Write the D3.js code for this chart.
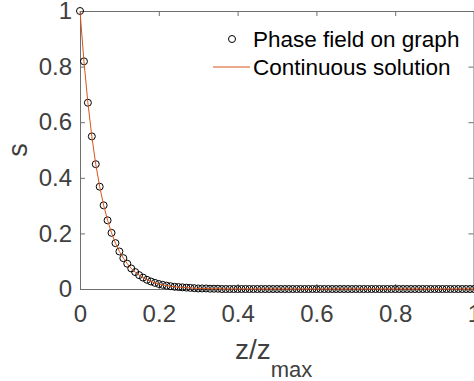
<!DOCTYPE html>
<html>
<head>
<meta charset="utf-8">
<script src="https://cdn.jsdelivr.net/npm/d3@7"></script>
<style>
  body { margin: 0; background: #fff; }
  text { font-family: Arial, "Liberation Sans", sans-serif; }
</style>
</head>
<body>
<div id="grafiek"></div>
<script>
// positions along the graph (z/zmax), step 0.01
var zValues = d3.range(0, 101).map(function(k) { return k / 100; });

// phase field values
var sValues = [
    1, 0.819, 0.670, 0.549, 0.449, 0.368, 0.301, 0.247, 0.202, 0.165,
    0.135, 0.111, 0.091, 0.074, 0.061, 0.050, 0.041, 0.033, 0.027, 0.022,
    0.018, 0.015, 0.012, 0.010, 0.008, 0.007, 0.006, 0.005, 0.004, 0.003,
    0.002, 0.002, 0.002, 0.001, 0.001, 0.001, 0, 0, 0, 0,
    0, 0, 0, 0, 0, 0, 0, 0, 0, 0,
    0, 0, 0, 0, 0, 0, 0, 0, 0, 0,
    0, 0, 0, 0, 0, 0, 0, 0, 0, 0,
    0, 0, 0, 0, 0, 0, 0, 0, 0, 0,
    0, 0, 0, 0, 0, 0, 0, 0, 0, 0,
    0, 0, 0, 0, 0, 0, 0, 0, 0, 0,
    0
];

// continuous solution, same sample points
var continuousValues = sValues.slice();

var xTicks = [0, 0.2, 0.4, 0.6, 0.8, 1];
var xTickLabels = ["0", "0.2", "0.4", "0.6", "0.8", "1"];
var yTicks = [0, 0.2, 0.4, 0.6, 0.8, 1];
var yTickLabels = ["0", "0.2", "0.4", "0.6", "0.8", "1"];
var legendLabels = ["Phase field on graph", "Continuous solution"];

var width = 474;
var height = 381;
var plotLeft = 80, plotRight = 474, plotTop = 11, plotBottom = 289;
var axisColor = "#6f6f6f";
var textColor = "#404040";

var xScale = d3.scaleLinear().domain([0, 1]).range([plotLeft, plotRight]);
var yScale = d3.scaleLinear().domain([0, 1]).range([plotBottom, plotTop]);

var svg = d3.select("#grafiek")
    .append("svg")
    .attr("width", width)
    .attr("height", height);

// assen
var xAxis = d3.axisBottom(xScale).tickValues(xTicks)
    .tickFormat(function(d, i) { return xTickLabels[i]; })
    .tickSizeInner(-5).tickSizeOuter(0).tickPadding(16);
var yAxis = d3.axisLeft(yScale).tickValues(yTicks)
    .tickFormat(function(d, i) { return yTickLabels[i]; })
    .tickSizeInner(-5).tickSizeOuter(0).tickPadding(8);
var xTop = d3.axisTop(xScale).tickValues(xTicks).tickFormat("")
    .tickSizeInner(-5).tickSizeOuter(0);
var yRight = d3.axisRight(yScale).tickValues(yTicks).tickFormat("")
    .tickSizeInner(-5).tickSizeOuter(0);

function styleAxis(g) {
    g.selectAll("path, line").attr("stroke", axisColor).attr("stroke-width", 1);
    g.selectAll("text").attr("fill", textColor).style("font-size", "24px")
        .style("font-family", "Arial, 'Liberation Sans', sans-serif");
}

svg.append("g").attr("transform", "translate(0," + plotBottom + ")").call(xAxis).call(styleAxis);
svg.append("g").attr("transform", "translate(" + plotLeft + ",0)").call(yAxis).call(styleAxis);
svg.append("g").attr("transform", "translate(0," + plotTop + ")").call(xTop).call(styleAxis);
svg.append("g").attr("transform", "translate(" + (plotRight - 0.5) + ",0)").call(yRight).call(styleAxis);

// markers
svg.append("g").selectAll("circle")
    .data(zValues)
    .enter()
    .append("circle")
    .attr("cx", function(d) { return xScale(d); })
    .attr("cy", function(d, i) { return yScale(sValues[i]); })
    .attr("r", 3.5)
    .attr("fill", "none")
    .attr("stroke", "#000")
    .attr("stroke-width", 1);

// continue lijn
var line = d3.line()
    .x(function(d) { return xScale(d); })
    .y(function(d, i) { return yScale(continuousValues[i]); });

svg.append("path")
    .datum(zValues)
    .attr("d", line)
    .attr("fill", "none")
    .attr("stroke", "#D95319")
    .attr("stroke-width", 1);

// labels
var xl = svg.append("text")
    .attr("x", 235)
    .attr("y", 359)
    .attr("fill", textColor)
    .style("font-size", "28px");
xl.append("tspan").text("z/z");
xl.append("tspan").attr("dy", 18).style("font-size", "22px").text("max");

svg.append("text")
    .attr("transform", "translate(27," + 150 + ") rotate(-90)")
    .attr("text-anchor", "middle")
    .attr("fill", textColor)
    .style("font-size", "27px")
    .text("s");

// legenda
var legend = svg.append("g");
legend.append("circle")
    .attr("cx", 232).attr("cy", 39).attr("r", 3.5)
    .attr("fill", "none").attr("stroke", "#000");
legend.append("line")
    .attr("x1", 213).attr("x2", 250).attr("y1", 67).attr("y2", 67)
    .attr("stroke", "#D95319").attr("stroke-width", 1);
legend.selectAll("text.lbl")
    .data(legendLabels)
    .enter()
    .append("text")
    .attr("class", "lbl")
    .attr("x", 253)
    .attr("y", function(d, i) { return 47 + i * 28; })
    .attr("fill", "#000")
    .style("font-size", "22.5px")
    .text(function(d) { return d; });
</script>
</body>
</html>
